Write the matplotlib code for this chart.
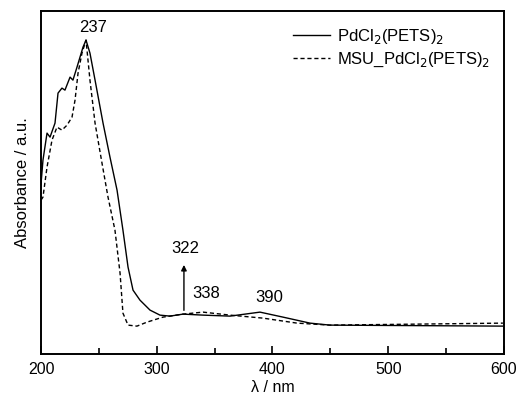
import matplotlib
matplotlib.use("Agg")
import matplotlib.pyplot as plt
from matplotlib.ticker import MultipleLocator

plt.rcParams['font.family'] = ['Liberation Sans', 'DejaVu Sans']

# PdCl2(PETS)2 (solid)
wl_pd = [200, 201.7, 205.2, 207.8, 212.1, 214.7, 218.1, 220.7, 225.1, 227.6, 231.1,
         233.7, 236.3, 238.9, 242.3, 246.7, 253.6, 259.6, 265.7, 270.8, 275.2, 279.5,
         285.5, 294.2, 302.8, 311.4, 322.7, 340, 363.3, 389.2, 409.1, 432.4, 449.7, 599.1]
abs_pd = [170, 194, 221, 217, 231, 261, 266, 264, 277, 274, 287,
          297, 307, 314, 301, 274, 231, 197, 164, 124, 87, 64,
          54, 44, 39, 38, 40, 39, 38, 42, 37, 31, 29, 28]

# MSU_PdCl2(PETS)2 (dashed)
wl_msu = [200, 201.7, 205.2, 209.5, 213.8, 218.1, 222.5, 226.8, 229.4, 232, 235.4,
          238.9, 242.3, 246.7, 252.7, 257.9, 263.9, 268.3, 270.8, 275.2, 282.9, 291.6,
          305.4, 322.7, 340, 363.3, 391.8, 421.2, 449.7, 599.1]
abs_msu = [154, 157, 187, 214, 227, 224, 229, 237, 254, 281, 301,
           314, 274, 231, 191, 157, 124, 81, 41, 29, 28, 32,
           37, 40, 42, 39, 36, 31, 29, 31]

fig = plt.figure(figsize=(5.19, 3.97), dpi=100)
ax = fig.add_axes([0.079, 0.108, 0.892, 0.864])

ax.plot(wl_pd, abs_pd, color='black', lw=1.0, ls='-', label='PdCl$_2$(PETS)$_2$')
ax.plot(wl_msu, abs_msu, color='black', lw=1.0, ls=(0, (3, 2)), label='MSU_PdCl$_2$(PETS)$_2$')

ax.set_xlim(200, 600)
ax.set_ylim(0, 343)
ax.xaxis.set_major_locator(MultipleLocator(100))
ax.xaxis.set_minor_locator(MultipleLocator(50))
ax.tick_params(axis='x', which='major', direction='in', length=6, width=1.2, labelsize=11.5, pad=6)
ax.tick_params(axis='x', which='minor', direction='in', length=4, width=1.2)
ax.tick_params(axis='y', left=False, labelleft=False)
for s in ax.spines.values():
    s.set_linewidth(1.4)

ax.set_xlabel('λ / nm', fontsize=11.5, labelpad=2)
ax.set_ylabel('Absorbance / a.u.', fontsize=12, labelpad=8)

ax.annotate('', xy=(323.5, 92), xytext=(323.5, 41),
            arrowprops=dict(arrowstyle='-|>', color='black', lw=1.0, mutation_scale=8))
ax.text(324.8, 106, '322', ha='center', va='center', fontsize=12)
ax.text(330.5, 61, '338', ha='left', va='center', fontsize=12)
ax.text(397, 57, '390', ha='center', va='center', fontsize=12)
ax.text(245, 327, '237', ha='center', va='center', fontsize=12)

leg = ax.legend(loc='upper left', bbox_to_anchor=(0.544, 0.955), frameon=False, borderpad=0,
                borderaxespad=0, fontsize=12, handlelength=2.2, handletextpad=0.42,
                labelspacing=0.3)

fig.savefig('out.png', dpi=100)
